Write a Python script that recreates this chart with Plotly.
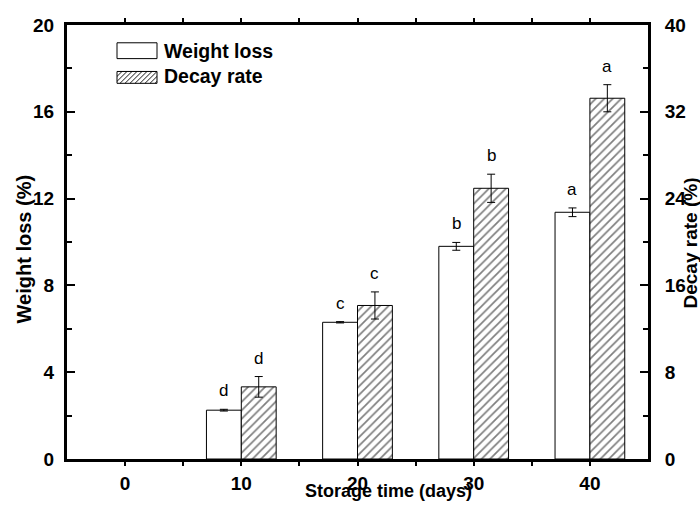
import plotly.graph_objects as go

# ---------------- data ----------------
days = [0, 10, 20, 30, 40]
weight_loss = [0, 2.25, 6.3, 9.8, 11.37]
weight_loss_err = [0, 0.04, 0.03, 0.18, 0.2]
decay_rate = [0, 6.65, 14.15, 24.95, 33.25]
decay_rate_err = [0, 0.95, 1.25, 1.3, 1.25]
weight_letters = ["", "d", "c", "b", "a"]
decay_letters = ["", "d", "c", "b", "a"]
x_tick_vals = [0, 5, 10, 15, 20, 25, 30, 35, 40]
x_tick_text = ["0", "", "10", "", "20", "", "30", "", "40"]
left_ticks = [0, 4, 8, 12, 16, 20]
left_minor = [2, 6, 10, 14, 18]
right_ticks = [0, 8, 16, 24, 32, 40]
right_minor = [4, 12, 20, 28, 36]

# ---------------- layout geometry ----------------
W, H = 700, 506
ML, MR, MT, MB = 67, 52, 25, 42
PW, PH = W - ML - MR, H - MT - MB
FONT = "Arial, Liberation Sans, sans-serif"
BAR_W = 3


def px(xp):
    return (xp - ML) / PW


def py(yp):
    return (H - MB - yp) / PH


# zero-height bars (day 0) are not drawn at all, as in the reference
wl_plot = [v if v != 0 else None for v in weight_loss]
dr_plot = [v if v != 0 else None for v in decay_rate]
wl_err_plot = [e if v != 0 else None for v, e in zip(weight_loss, weight_loss_err)]
dr_err_plot = [e if v != 0 else None for v, e in zip(decay_rate, decay_rate_err)]

fig = go.Figure()

fig.add_trace(go.Bar(
    x=days, y=wl_plot, width=BAR_W, offset=-BAR_W,
    marker=dict(color="white", line=dict(color="black", width=1)),
    error_y=dict(type="data", array=wl_err_plot, color="black",
                 thickness=1, width=4),
    name="Weight loss", showlegend=False, yaxis="y",
))
fig.add_trace(go.Bar(
    x=days, y=dr_plot, width=BAR_W, offset=0,
    marker=dict(color="white", line=dict(color="black", width=1),
                pattern=dict(shape="/", fgcolor="black", bgcolor="white",
                             size=6, solidity=0.28)),
    error_y=dict(type="data", array=dr_err_plot, color="black",
                 thickness=1, width=4),
    name="Decay rate", showlegend=False, yaxis="y2",
))

annotations = []
for d, v, e, t in zip(days, weight_loss, weight_loss_err, weight_letters):
    if t:
        annotations.append(dict(x=d - BAR_W / 2, y=v + e, xref="x", yref="y",
                                text=t, showarrow=False, yanchor="bottom",
                                yshift=7, font=dict(family=FONT, size=17, color="black")))
for d, v, e, t in zip(days, decay_rate, decay_rate_err, decay_letters):
    if t:
        annotations.append(dict(x=d + BAR_W / 2, y=v + e, xref="x", yref="y2",
                                text=t, showarrow=False, yanchor="bottom",
                                yshift=7, font=dict(family=FONT, size=17, color="black")))

# axis titles as annotations (positions as in the reference)
annotations.append(dict(x=px(388), y=py(496), xref="paper", yref="paper",
                        text="<b>Storage time (days)</b>", showarrow=False,
                        xanchor="center", yanchor="middle",
                        font=dict(family=FONT, size=18, color="black")))
annotations.append(dict(x=px(24), y=py(252), xref="paper", yref="paper",
                        text="<b>Weight loss (%)</b>", showarrow=False, textangle=-90,
                        xanchor="center", yanchor="middle",
                        font=dict(family=FONT, size=20, color="black")))
annotations.append(dict(x=px(690), y=py(246), xref="paper", yref="paper",
                        text="<b>Decay rate (%)</b>", showarrow=False, textangle=-90,
                        xanchor="center", yanchor="middle",
                        font=dict(family=FONT, size=19, color="black")))

# ---------------- manual legend ----------------
shapes = []
shapes.append(dict(type="rect", xref="paper", yref="paper",
                   x0=px(117), x1=px(157), y0=py(59), y1=py(43),
                   line=dict(color="black", width=1), fillcolor="white"))
shapes.append(dict(type="rect", xref="paper", yref="paper",
                   x0=px(117), x1=px(157), y0=py(84), y1=py(72),
                   line=dict(color="black", width=1), fillcolor="white"))
# hatch inside decay legend box
bx0, bx1, by0, by1 = 117, 157, 72, 84
hh = by1 - by0
path = ""
s = bx0 - hh
while s < bx1:
    xa, ya = s, by1
    xb, yb = s + hh, by0
    if xa < bx0:
        ya = by1 - (bx0 - xa)
        xa = bx0
    if xb > bx1:
        yb = by0 + (xb - bx1)
        xb = bx1
    if xb > xa:
        path += f"M{px(xa)},{py(ya)} L{px(xb)},{py(yb)} "
    s += 5
shapes.append(dict(type="path", xref="paper", yref="paper", path=path,
                   line=dict(color="black", width=0.9)))
annotations.append(dict(x=px(162), y=py(51), xref="paper", yref="paper",
                        text="<b>Weight loss</b>", showarrow=False,
                        xanchor="left", yanchor="middle",
                        font=dict(family=FONT, size=19.5, color="black")))
annotations.append(dict(x=px(162), y=py(77), xref="paper", yref="paper",
                        text="<b>Decay rate</b>", showarrow=False,
                        xanchor="left", yanchor="middle",
                        font=dict(family=FONT, size=19.5, color="black")))

tickfont = dict(family=FONT, size=19, color="black", weight="bold")

fig.update_layout(
    width=W, height=H,
    margin=dict(l=ML, r=MR, t=MT, b=MB, pad=0),
    paper_bgcolor="white", plot_bgcolor="white",
    barmode="overlay",
    showlegend=False,
    annotations=annotations,
    shapes=shapes,
    xaxis=dict(
        range=[-5, 45], tickmode="array", tickvals=x_tick_vals, ticktext=x_tick_text,
        ticks="outside", ticklen=4, tickwidth=2, tickcolor="black",
        showline=True, linewidth=3, linecolor="black", mirror="allticks",
        showgrid=False, zeroline=False, tickfont=tickfont, ticklabelstandoff=1,
    ),
    yaxis=dict(
        range=[0, 20], tickmode="array", tickvals=left_ticks,
        ticks="inside", ticklen=8, tickwidth=2, tickcolor="black",
        minor=dict(tickmode="array", tickvals=left_minor, ticks="inside",
                   ticklen=5, tickwidth=2, tickcolor="black"),
        showline=True, linewidth=3, linecolor="black",
        showgrid=False, zeroline=False, tickfont=tickfont, ticklabelstandoff=6,
    ),
    yaxis2=dict(
        range=[0, 40], tickmode="array", tickvals=right_ticks, overlaying="y", side="right",
        ticks="inside", ticklen=8, tickwidth=2, tickcolor="black",
        minor=dict(tickmode="array", tickvals=right_minor, ticks="inside",
                   ticklen=5, tickwidth=2, tickcolor="black"),
        showline=True, linewidth=3, linecolor="black",
        showgrid=False, zeroline=False, tickfont=tickfont, ticklabelstandoff=10,
    ),
)

fig.write_html("out.html")
